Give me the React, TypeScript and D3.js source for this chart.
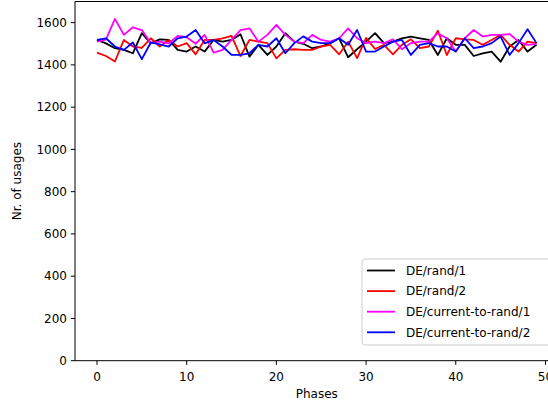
import React from "react";
import * as d3 from "d3";

const phases: number[] = Array.from({ length: 50 }, (_, i) => i);

const rand1: number[] = [1518, 1502, 1479, 1471, 1455, 1550, 1502, 1521, 1518, 1471, 1463, 1487, 1463, 1518, 1510, 1518, 1545, 1439, 1495, 1447, 1487, 1550, 1510, 1500, 1479, 1487, 1503, 1526, 1436, 1474, 1510, 1550, 1503, 1510, 1526, 1534, 1526, 1518, 1447, 1526, 1495, 1495, 1442, 1455, 1463, 1415, 1487, 1518, 1463, 1495];
const rand2: number[] = [1458, 1442, 1416, 1518, 1487, 1480, 1526, 1487, 1518, 1487, 1503, 1450, 1518, 1518, 1526, 1537, 1442, 1518, 1510, 1503, 1431, 1471, 1474, 1471, 1471, 1487, 1495, 1450, 1510, 1432, 1528, 1475, 1495, 1450, 1495, 1521, 1479, 1487, 1562, 1447, 1526, 1521, 1518, 1495, 1518, 1542, 1495, 1463, 1510, 1503];
const ctr1: number[] = [1510, 1520, 1618, 1542, 1578, 1565, 1502, 1510, 1502, 1537, 1531, 1500, 1542, 1458, 1471, 1518, 1565, 1573, 1510, 1542, 1589, 1542, 1510, 1503, 1542, 1518, 1510, 1526, 1573, 1526, 1503, 1510, 1503, 1521, 1474, 1503, 1510, 1510, 1550, 1526, 1463, 1526, 1565, 1534, 1542, 1542, 1546, 1510, 1495, 1499];
const ctr2: number[] = [1518, 1526, 1487, 1471, 1506, 1427, 1506, 1497, 1487, 1526, 1534, 1565, 1502, 1518, 1487, 1447, 1447, 1455, 1495, 1487, 1526, 1455, 1503, 1535, 1510, 1503, 1503, 1526, 1495, 1565, 1463, 1463, 1487, 1510, 1518, 1447, 1495, 1503, 1487, 1487, 1463, 1526, 1479, 1487, 1503, 1534, 1447, 1503, 1569, 1503];

const seriesNames: string[] = ["DE/rand/1", "DE/rand/2", "DE/current-to-rand/1", "DE/current-to-rand/2"];
const seriesColors: string[] = ["#000000", "#ff0000", "#ff00ff", "#0000ff"];
const seriesValues: number[][] = [rand1, rand2, ctr1, ctr2];

const xTicks: number[] = [0, 10, 20, 30, 40, 50];
const yTicks: number[] = [0, 200, 400, 600, 800, 1000, 1200, 1400, 1600];

const FONT = "DejaVu Sans, sans-serif";

export default function App() {
  const W = 548, H = 404;
  const left = 75, bottom = 360.7, top = 1.5;
  const x = d3.scaleLinear().domain([-2.45, 51.45]).range([left, left + 53.9 * 8.97]);
  const y = d3.scaleLinear().domain([0, 1700]).range([bottom, top]);
  const right = x(51.45);

  const line = d3.line<number>().x((_, i) => x(phases[i])).y((d) => y(d));

  const legX = 362, legY = 259, legRowH = 20.6;

  return (
    <svg width={W} height={H} style={{ position: "absolute", left: 0, top: 0, background: "#fff" }} fontFamily={FONT}>
      <rect x={0} y={0} width={W} height={H} fill="#fff" />
      {seriesValues.map((vals, k) => (
        <path key={k} d={line(vals) || ""} fill="none" stroke={seriesColors[k]} strokeWidth={1.8} strokeLinejoin="round" />
      ))}
      {/* spines */}
      <line x1={left} x2={left} y1={top} y2={bottom} stroke="#000" strokeWidth={1} />
      <line x1={left} x2={right} y1={bottom} y2={bottom} stroke="#000" strokeWidth={1} />
      <line x1={left} x2={right} y1={top} y2={top} stroke="#000" strokeWidth={1} />
      {/* x ticks */}
      {xTicks.map((t) => (
        <g key={t}>
          <line x1={x(t)} x2={x(t)} y1={bottom} y2={bottom + 4.2} stroke="#000" strokeWidth={1} />
          <text x={x(t)} y={bottom + 20.5} fontSize={12} textAnchor="middle" fill="#000">{t}</text>
        </g>
      ))}
      {/* y ticks */}
      {yTicks.map((t) => (
        <g key={t}>
          <line x1={left - 4.2} x2={left} y1={y(t)} y2={y(t)} stroke="#000" strokeWidth={1} />
          <text x={left - 8} y={y(t) + 4.3} fontSize={12} textAnchor="end" fill="#000">{t}</text>
        </g>
      ))}
      <text x={(left + right) / 2} y={398} fontSize={12} textAnchor="middle" fill="#000">Phases</text>
      <text transform={`translate(21, ${(top + bottom) / 2}) rotate(-90)`} fontSize={12} textAnchor="middle" fill="#000">Nr. of usages</text>
      {/* legend */}
      <rect x={legX} y={legY} width={200} height={86} rx={3} fill="#fff" fillOpacity={0.8} stroke="#cccccc" strokeWidth={1} />
      {seriesNames.map((n, k) => (
        <g key={n}>
          <line x1={legX + 5} x2={legX + 33} y1={legY + 11.5 + k * legRowH} y2={legY + 11.5 + k * legRowH} stroke={seriesColors[k]} strokeWidth={1.8} />
          <text x={legX + 44} y={legY + 15.8 + k * legRowH} fontSize={12} fill="#000">{n}</text>
        </g>
      ))}
    </svg>
  );
}
